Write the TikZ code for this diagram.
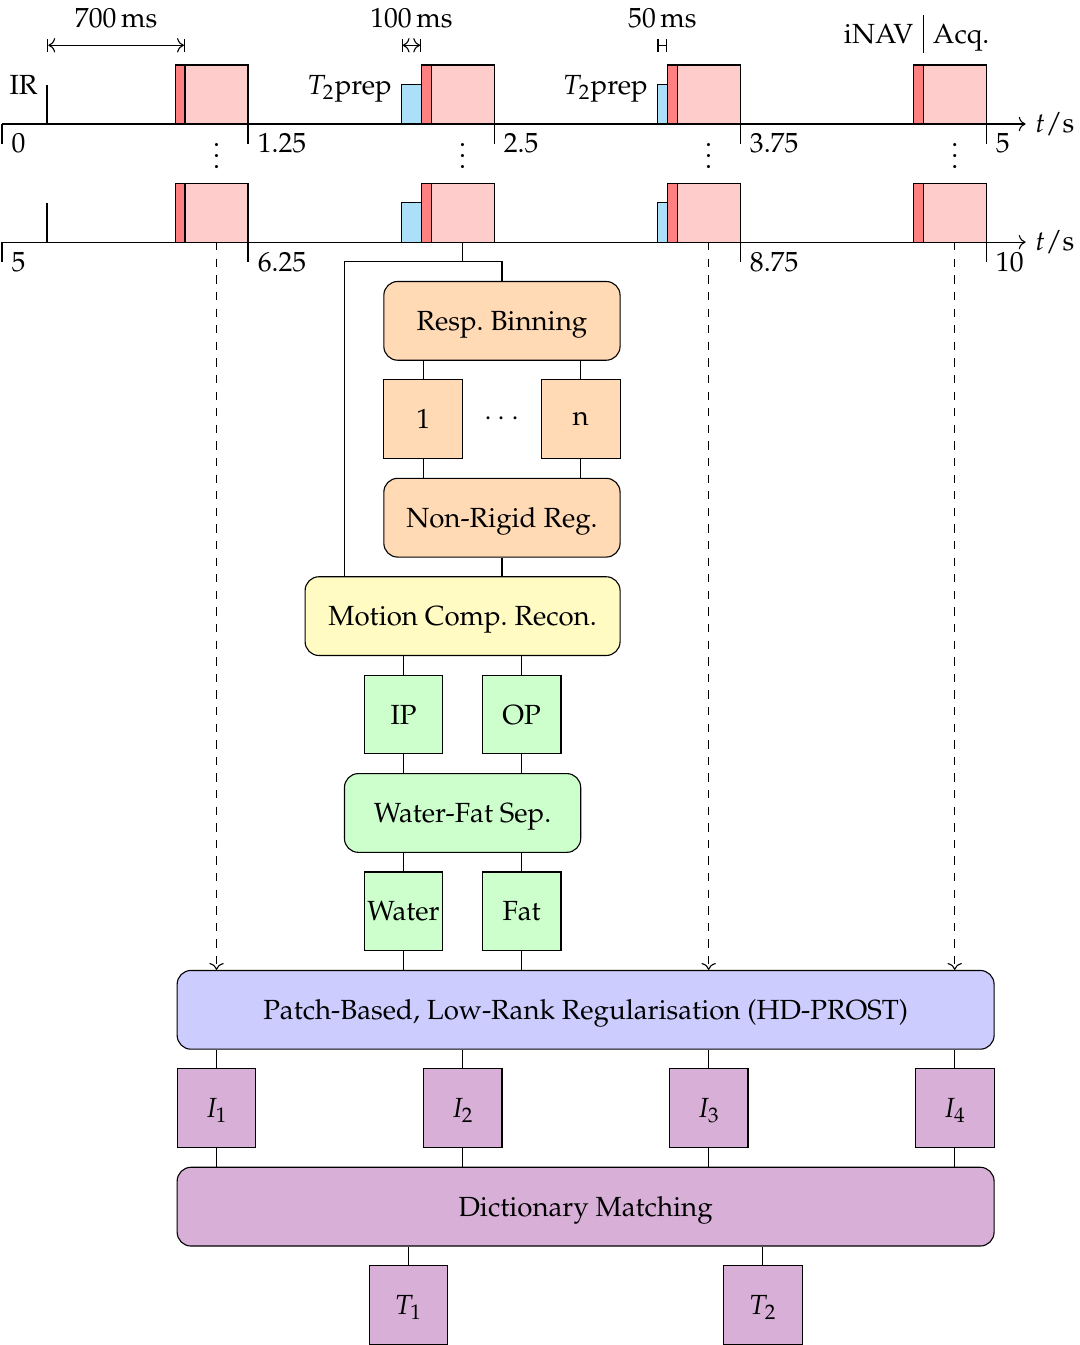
\documentclass[tikz,border=0pt]{standalone}
\usepackage[T1]{fontenc}
\usepackage{mathpazo}
\usetikzlibrary{arrows.meta,calc}
\definecolor{acqpink}{HTML}{FFCCCC}
\definecolor{navred}{HTML}{FF8080}
\definecolor{prepblue}{HTML}{ABE0F8}
\definecolor{orangebox}{HTML}{FFDAB5}
\definecolor{yellowbox}{HTML}{FFFBC2}
\definecolor{greenbox}{HTML}{CCFFCC}
\definecolor{bluebox}{HTML}{CCCCFF}
\definecolor{purplebox}{HTML}{D8B0D7}
\begin{document}
\begin{tikzpicture}[
  box/.style={draw, minimum height=1cm, inner sep=0pt, align=center, text depth=0pt},
  sq/.style={box, minimum width=1cm},
  rbox/.style={box, rounded corners=5pt},
  dimline/.style={|<->|},
  lbl/.style={text depth=0pt},
]
\useasboundingbox (-0.025,-15.507) rectangle (13.691,1.575);

% ---------- timing rows ----------
\foreach \row/\yy in {1/0, 2/-1.5} {
  \draw[->] (0,\yy) -- (13,\yy) node[right] (ts\row) {$t/\mathrm{s}$};
  \draw[line width=0.8pt] (0.575,\yy) -- (0.575,\yy+0.5);
  \draw[fill=prepblue] (5.075,\yy) rectangle (5.325,\yy+0.5);
  \draw[fill=prepblue] (8.325,\yy) rectangle (8.45,\yy+0.5);
  \foreach \k in {0,1,2,3} {
    \pgfmathsetmacro\e{3.125*(\k+1)}
    \draw[fill=navred] (\e-0.925,\yy) rectangle (\e-0.8,\yy+0.75);
    \draw[fill=acqpink] (\e-0.8,\yy) rectangle (\e,\yy+0.75);
    \coordinate (p\row\k) at (\e-0.4,\yy);
  }
}
% ticks row 1
\foreach \x/\l [count=\i] in {0/0, 3.125/1.25, 6.25/2.5, 9.375/3.75, 12.5/5}
  \draw (\x,0) -- (\x,-0.25) node[right] (ta\i) {\l};
% ticks row 2
\foreach \x/\l [count=\i] in {0/5, 3.125/6.25, 9.375/8.75, 12.5/10}
  \draw (\x,-1.5) -- (\x,-1.75) node[right] (tb\i) {\l};
% vdots
\foreach \k in {0,1,2,3}
  \node[inner sep=0pt] (vd\k) at ($(p1\k)+(0,-0.3)$) {$\vdots$};
% labels
\node[left, lbl] (irl) at (0.575,0.5) {IR};
\node[left, lbl] (tpa) at (5.075,0.5) {$T_2$prep};
\node[left, lbl] (tpb) at (8.325,0.5) {$T_2$prep};
\draw (11.7,0.9) -- (11.7,1.384);
\node[left, lbl] (inav) at (11.7,1.14) {iNAV};
\node[right, lbl] (acq) at (11.7,1.14) {Acq.};
% dimension arrows
\draw[dimline] (0.575,1) -- node[above=0.1cm] (d700) {700\,ms} (2.325,1);
\draw[dimline] (5.075,1) -- node[above=0.1cm] (d100) {100\,ms} (5.325,1);
\draw[|-|] (8.325,1) -- node[above=0.1cm] (d50) {50\,ms} (8.45,1);

% ---------- flowchart ----------
\node[rbox, fill=orangebox, minimum width=3cm] (rb) at (6.35,-2.5) {Resp.\ Binning};
\node[sq, fill=orangebox] (b1) at (5.35,-3.75) {1};
\node[sq, fill=orangebox] (bn) at (7.35,-3.75) {n};
\node (bdots) at (6.35,-3.75) {$\cdots$};
\node[rbox, fill=orangebox, minimum width=3cm] (nrr) at (6.35,-5) {Non-Rigid Reg.};
\node[rbox, fill=yellowbox, minimum width=4cm] (mcr) at (5.85,-6.25) {Motion Comp.\ Recon.};
\node[sq, fill=greenbox] (ip) at (5.1,-7.5) {IP};
\node[sq, fill=greenbox] (op) at (6.6,-7.5) {OP};
\node[rbox, fill=greenbox, minimum width=3cm] (wfs) at (5.85,-8.75) {Water-Fat Sep.};
\node[sq, fill=greenbox] (wat) at (5.1,-10) {Water};
\node[sq, fill=greenbox] (fat) at (6.6,-10) {Fat};
\node[rbox, fill=bluebox, minimum width=10.375cm] (hd) at (7.4125,-11.25) {Patch-Based, Low-Rank Regularisation (HD-PROST)};
\node[sq, fill=purplebox] (i1) at (2.725,-12.5) {$I_1$};
\node[sq, fill=purplebox] (i2) at (5.85,-12.5) {$I_2$};
\node[sq, fill=purplebox] (i3) at (8.975,-12.5) {$I_3$};
\node[sq, fill=purplebox] (i4) at (12.1,-12.5) {$I_4$};
\node[rbox, fill=purplebox, minimum width=10.375cm] (dm) at (7.4125,-13.75) {Dictionary Matching};
\node[sq, fill=purplebox] (t1) at (5.1625,-15) {$T_1$};
\node[sq, fill=purplebox] (t2) at (9.6625,-15) {$T_2$};

% connectors
\coordinate (bl) at (4.35,-1.75);
\draw (p21) -- (p21 |- bl);
\draw (rb.north) |- (bl) -- (bl |- mcr.north);
\foreach \n in {b1,bn} {
  \draw (\n.north) -- (\n.north |- rb.south);
  \draw (\n.south) -- (\n.south |- nrr.north);
}
\draw (nrr.south) -- (nrr.south |- mcr.north);
\foreach \n in {ip,op} {
  \draw (\n.north) -- (\n.north |- mcr.south);
  \draw (\n.south) -- (\n.south |- wfs.north);
}
\foreach \n in {wat,fat} {
  \draw (\n.north) -- (\n.north |- wfs.south);
  \draw (\n.south) -- (\n.south |- hd.north);
}
\foreach \n in {i1,i2,i3,i4} {
  \draw (\n.north) -- (\n.north |- hd.south);
  \draw (\n.south) -- (\n.south |- dm.north);
}
\foreach \n in {t1,t2}
  \draw (\n.north) -- (\n.north |- dm.south);
\foreach \k in {0,2,3}
  \draw[dashed,->] (p2\k) -- (p2\k |- hd.north);
\end{tikzpicture}
\end{document}
